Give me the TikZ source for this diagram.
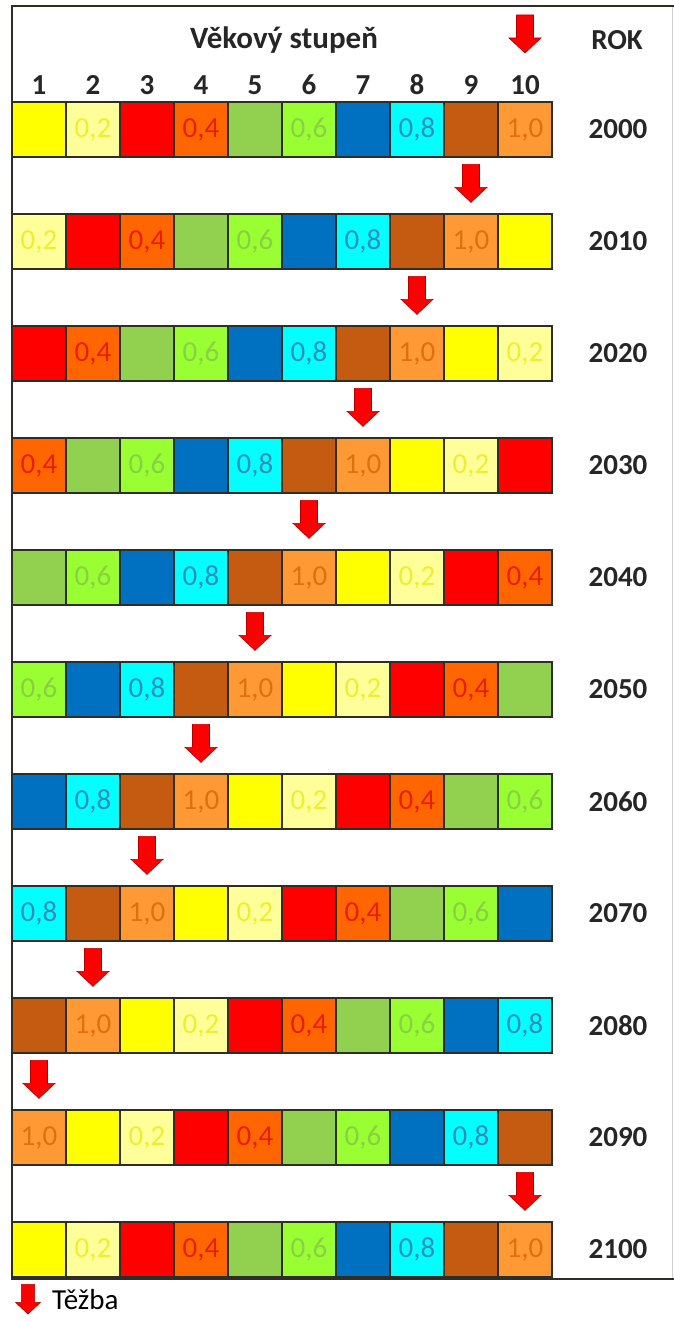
\documentclass[tikz,border=0pt]{standalone}
\usepackage{fontspec}
\setmainfont{Carlito}
\usetikzlibrary{positioning}

\definecolor{cYellow}{HTML}{FFFF00}
\definecolor{cLtYellow}{HTML}{FFFF99}
\definecolor{cLtYellowTx}{HTML}{EEEE30}
\definecolor{cRed}{HTML}{FF0000}
\definecolor{cOrange}{HTML}{FF6600}
\definecolor{cOrangeTx}{HTML}{E81E0A}
\definecolor{cGreen}{HTML}{92D050}
\definecolor{cLtGreen}{HTML}{99FF33}
\definecolor{cLtGreenTx}{HTML}{88D044}
\definecolor{cBlue}{HTML}{0070C0}
\definecolor{cCyan}{HTML}{00FFFF}
\definecolor{cCyanTx}{HTML}{2E8FB8}
\definecolor{cBrown}{HTML}{C55A11}
\definecolor{cLtOrange}{HTML}{FF9933}
\definecolor{cLtOrangeTx}{HTML}{DD7011}
\definecolor{cBorder}{HTML}{2E2E26}
\definecolor{cArrowEdge}{HTML}{B00000}

\begin{document}
\begin{tikzpicture}[x=1pt, y=-1pt,
  every node/.style={inner sep=0pt},
  cell/.style={draw=cBorder, line width=1.3pt, minimum width=54pt,
               minimum height=55pt, font=\fontsize{29}{32}\selectfont},
  hdr/.style={font=\fontsize{29}{32}\selectfont\bfseries, text=black!85},
  tezba/.pic={
    \fill[red, draw=cArrowEdge, line width=0.6pt]
      (0,0) -- (-16,-15) -- (-8.5,-15) -- (-8.5,-38)
      -- (8.5,-38) -- (8.5,-15) -- (16,-15) -- cycle;
  }]
  \useasboundingbox (0,0) rectangle (674,1322);
  % Frame
  \draw[gray!35, line width=1pt] (672,6) -- (672,1279);
  \draw[cBorder, line width=1.3pt] (674,6) -- (12,6) -- (12,1279) -- (674,1279);
  % Cells: each age class moves one step left every ten years
  \foreach \s/\fc/\tc/\lab in {0/cYellow/black/{},1/cLtYellow/cLtYellowTx/{0,2},
      2/cRed/black/{},3/cOrange/cOrangeTx/{0,4},4/cGreen/black/{},
      5/cLtGreen/cLtGreenTx/{0,6},6/cBlue/black/{},7/cCyan/cCyanTx/{0,8},
      8/cBrown/black/{},9/cLtOrange/cLtOrangeTx/{1,0}}{
    \foreach \k in {0,...,10}{
      \pgfmathtruncatemacro\col{mod(\s-\k+20,10)+1}
      \node[cell, fill=\fc, text=\tc] (cell-\k-\col)
        at (54*\col-15, 129.5+112*\k) {\lab};
    }
  }
  % Years
  \foreach \k in {0,...,10}{
    \pgfmathtruncatemacro\yr{2000+10*\k}
    \node[hdr] (yr-\k) at (618, 129.5+112*\k) {\yr};
  }
  % Header
  \foreach \j in {1,...,10}
    \node[hdr] (num-\j) at ([yshift=44.5pt]cell-0-\j.center) {\j};
  \node[hdr, font=\fontsize{31}{34}\selectfont\bfseries] (title) at (284,40) {Věkový stupeň};
  \node[hdr] (rok) at (617,40) {ROK};
  % Felling arrows
  \pic at (525,53) {tezba};
  \foreach \k in {1,...,10}{
    \pgfmathtruncatemacro\acol{mod(19-\k,10)+1}
    \pic at ([yshift=11pt]cell-\k-\acol.north) {tezba};
  }
  % Legend
  \pic[scale=0.78] at (28,1314) {tezba};
  \node[anchor=west, font=\fontsize{29}{32}\selectfont] (legend) at (52,1300) {Těžba};
\end{tikzpicture}
\end{document}
